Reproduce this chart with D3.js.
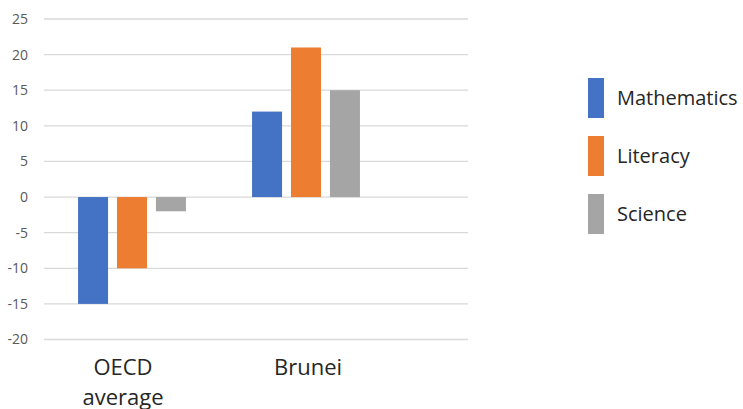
<!DOCTYPE html>
<html>
<head>
<meta charset="utf-8">
<script src="https://cdn.jsdelivr.net/npm/d3@7"></script>
<style>
  body { margin: 0; background: #fff; }
  svg { font-family: "Open Sans", "Noto Sans", sans-serif; }
  .grid line { stroke: #d9d9d9; stroke-width: 1.3; }
  .tick-label { fill: #595959; font-size: 14px; }
  .cat-label { fill: #262626; font-size: 22px; }
  .legend-label { fill: #262626; font-size: 20px; }
</style>
</head>
<body>
<svg width="743" height="409"></svg>
<script>
categories = ['OECD average', 'Brunei'];
series = ['Mathematics', 'Literacy', 'Science'];
mathematics = [-15, 12];
literacy = [-10, 21];
science = [-2, 15];
yTicks = [-20, -15, -10, -5, 0, 5, 10, 15, 20, 25];

COLORS = ['#4472c4', '#ed7d31', '#a5a5a5'];
GRID_LEFT = 44
GRID_RIGHT = 468
LABEL_NUDGE = [-9, 2]

values = [mathematics, literacy, science];
svg = d3.select('svg');

y = d3.scaleLinear().domain([-20, 25]).range([339.5, 19]);
x0 = d3.scaleBand().domain(categories).range([45, 393]).paddingInner(0.38).paddingOuter(0.19);
x1 = d3.scaleBand().domain(series).range([0, x0.bandwidth()]).paddingInner(0.23).paddingOuter(0);
color = d3.scaleOrdinal().domain(series).range(COLORS);

// gridlines
svg.append('g').classed('grid', true)
  .selectAll('line')
  .data(yTicks)
  .enter()
  .append('line')
  .attr('x1', GRID_LEFT)
  .attr('x2', GRID_RIGHT)
  .attr('y1', function (d) { return y(d); })
  .attr('y2', function (d) { return y(d); });

svg.append('g')
  .selectAll('text')
  .data(yTicks)
  .enter()
  .append('text')
  .classed('tick-label', true)
  .attr('x', 28)
  .attr('y', function (d) { return y(d); })
  .attr('dy', '0.35em')
  .attr('text-anchor', 'end')
  .text(function (d) { return d; });

// bars
groups = svg.append('g')
  .selectAll('g')
  .data(categories)
  .enter()
  .append('g')
  .attr('transform', function (d) { return 'translate(' + x0(d) + ',0)'; });

groups.selectAll('rect')
  .data(function (d, i) { return series.map(function (s, j) { return {s: s, v: values[j][i]}; }); })
  .enter()
  .append('rect')
  .attr('x', function (d) { return x1(d.s); })
  .attr('width', x1.bandwidth())
  .attr('y', function (d) { return y(Math.max(0, d.v)); })
  .attr('height', function (d) { return Math.abs(y(d.v) - y(0)); })
  .attr('fill', function (d) { return color(d.s); });

// category labels
cat = svg.append('g')
  .selectAll('text')
  .data(categories)
  .enter()
  .append('text')
  .classed('cat-label', true)
  .attr('text-anchor', 'middle')
  .attr('x', function (d, i) { return x0(d) + x0.bandwidth() / 2 + LABEL_NUDGE[i]; })
  .attr('y', 375);
cat.each(function (d) {
  var words = d.split(' ');
  var t = d3.select(this);
  words.forEach(function (w, i) {
    t.append('tspan')
      .attr('x', t.attr('x'))
      .attr('dy', i === 0 ? 0 : 30)
      .text(w);
  });
});

// legend
legend = svg.append('g')
  .selectAll('g')
  .data(series)
  .enter()
  .append('g')
  .attr('transform', function (d, i) { return 'translate(588,' + (78 + i * 58) + ')'; });

legend.append('rect')
  .attr('width', 16)
  .attr('height', 40)
  .attr('fill', function (d) { return color(d); });

legend.append('text')
  .classed('legend-label', true)
  .attr('x', 29)
  .attr('y', 20)
  .attr('dy', '0.35em')
  .text(function (d) { return d; });
</script>
</body>
</html>
